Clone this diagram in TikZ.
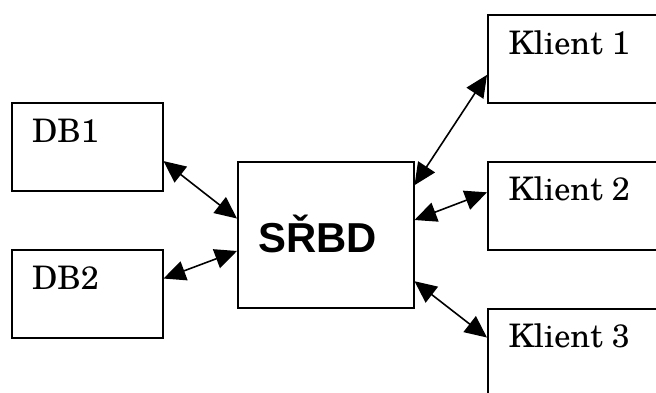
\documentclass[tikz,border=0pt]{standalone}
\usepackage{fontspec}
\newfontfamily\boxfont[Extension=.otf,UprightFont=*-regular]{texgyreschola}
\newfontfamily\hubfont{Liberation Sans}
\usetikzlibrary{arrows.meta,calc}
\tikzset{
  unit/.style={draw=black, line width=1.5bp, minimum width=151bp, minimum height=88bp,
    inner sep=0pt, anchor=north west},
  client/.style={unit, minimum width=200bp},
  hub/.style={draw=black, line width=1.5bp, minimum width=176bp, minimum height=146bp,
    inner sep=0pt, anchor=north west},
  caption/.style={anchor=base west, inner sep=0pt, font=\boxfont\fontsize{32.5}{32.5}\selectfont},
  link/.style={line width=1.6bp, {Triangle[length=22bp,width=20bp]}-{Triangle[length=22bp,width=20bp]}}
}
\begin{document}
\begin{tikzpicture}[x=1bp,y=-1bp]
\useasboundingbox (0,0) rectangle (656,392);
\clip (0,0) rectangle (656,392);
% boxes
\node[unit]   (db1) at (11,102) {};
\node[unit]   (db2) at (11,249) {};
\node[hub]    (srbd) at (237,161) {};
\node[client] (k1) at (487,14) {};
\node[client] (k2) at (487,161) {};
\node[client] (k3) at (487,308) {};
% captions
\node[caption] (tdb1) at ($(db1.north west)+(21,40.5)$) {DB1};
\node[caption] (tdb2) at ($(db2.north west)+(21,40.5)$) {DB2};
\node[caption] (tk1) at ($(k1.north west)+(21.5,40.5)$) {Klient 1};
\node[caption] (tk2) at ($(k2.north west)+(21.5,39.5)$) {Klient 2};
\node[caption] (tk3) at ($(k3.north west)+(21.5,39.5)$) {Klient 3};
\node[anchor=base west, inner sep=0pt, font=\hubfont\bfseries\fontsize{42}{42}\selectfont]
  (tsrbd) at ($(srbd.north west)+(21,91)$) {SŘBD};
% connectors
\draw[link] ($(db1.north east)!0.66!(db1.south east)$) -- ($(srbd.north west)!0.39!(srbd.south west)$);
\draw[link] ($(db2.north east)!0.33!(db2.south east)$) -- ($(srbd.north west)!0.61!(srbd.south west)$);
\draw[link] ($(srbd.north east)!0.164!(srbd.south east)$) -- ($(k1.north west)!0.68!(k1.south west)$);
\draw[link] ($(srbd.north east)!0.40!(srbd.south east)$) -- ($(k2.north west)!0.35!(k2.south west)$);
\draw[link] ($(srbd.north east)!0.815!(srbd.south east)$) -- ($(k3.north west)!0.33!(k3.south west)$);
\end{tikzpicture}
\end{document}
